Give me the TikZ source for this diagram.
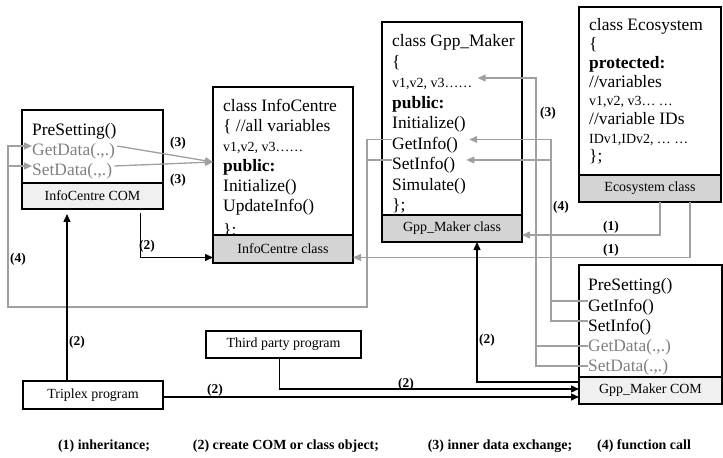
\documentclass[tikz,border=0pt]{standalone}
\usepackage{fontspec}
\setmainfont{Liberation Serif}
\usepackage{tikz}
\usetikzlibrary{positioning, arrows.meta}

\definecolor{linegray}{HTML}{A0A0A0}
\definecolor{textgray}{HTML}{808080}
\definecolor{comfill}{HTML}{F0F0F0}
\definecolor{clsfill}{HTML}{D4D4D4}

\newcommand{\bigtxt}{\fontsize{17.5}{20}\selectfont}
\newcommand{\smalltxt}{\fontsize{14}{16}\selectfont}
\newcommand{\tagtxt}{\fontsize{13.5}{15}\selectfont\bfseries}

\begin{document}
\begin{tikzpicture}[
    x=1bp, y=-1bp,
    font=\bigtxt,
    node distance=0pt,
    body/.style={draw, line width=1.7bp, anchor=north west, inner sep=0pt, outer sep=0pt},
    comband/.style={draw, line width=1.7bp, fill=comfill, inner sep=0pt, outer sep=0pt, font=\smalltxt},
    clsband/.style={draw, line width=1.7bp, fill=clsfill, inner sep=0pt, outer sep=0pt, font=\smalltxt},
    % rows are anchored a little above the middle of the letters
    txtrow/.style={anchor=west, inner sep=0pt, text height=21bp, text depth=1bp},
    grayrow/.style={txtrow, text=textgray},
    tag/.style={font=\tagtxt, inner sep=0pt},
    keytag/.style={font=\fontsize{14}{16}\selectfont\bfseries, inner sep=0pt},
    gline/.style={draw=linegray, line width=1.3bp},
    garr/.style={gline, -{Triangle[length=8bp, width=7bp]}},
    barr/.style={line width=1.4bp, -{Triangle[length=8bp, width=7bp]}},
  ]
  \useasboundingbox (0,0) rectangle (723,458);

  % InfoCentre COM
  \node[body, minimum width=141bp, minimum height=73bp] (icomBody) at (22,110) {};
  \node[txtrow] (icomPre) at (32,126) {PreSetting()};
  \node[grayrow] (icomGet) at (32,146) {GetData(.,.)};
  \node[grayrow] (icomSet) at (32,166) {SetData(.,.)};
  \node[comband, minimum width=141bp, minimum height=26bp, below=of icomBody] (icomBand) {InfoCentre COM};

  % InfoCentre class
  \node[body, minimum width=140bp, minimum height=148bp] (icBody) at (213,87) {};
  \node[txtrow] (icHead) at (223,102) {class InfoCentre};
  \node[txtrow] (icOpen) at (223,122) {\{ //all variables};
  \node[txtrow, font=\smalltxt] (icVars) at (223,142) {v1,v2, v3……};
  \node[txtrow] (icPub) at (223,162) {\textbf{public:}};
  \node[txtrow] (icInit) at (223,182) {Initialize()};
  \node[txtrow] (icUpd) at (223,202) {UpdateInfo()};
  \node[txtrow] (icEnd) at (223,226) {\};};
  \node[clsband, minimum width=140bp, minimum height=28bp, below=of icBody] (icBand) {InfoCentre class};

  % Gpp_Maker class
  \node[body, minimum width=140bp, minimum height=193bp] (gpBody) at (382,22) {};
  \node[txtrow] (gpHead) at (392,37) {class Gpp\_Maker};
  \node[txtrow] (gpOpen) at (392,57.5) {\{};
  \node[txtrow, font=\smalltxt] (gpVars) at (392,78) {v1,v2, v3……};
  \node[txtrow] (gpPub) at (392,98.5) {\textbf{public:}};
  \node[txtrow] (gpInit) at (392,119) {Initialize()};
  \node[txtrow] (gpGet) at (392,139.5) {GetInfo()};
  \node[txtrow] (gpSet) at (392,160) {SetInfo()};
  \node[txtrow] (gpSim) at (392,180.5) {Simulate()};
  \node[txtrow] (gpEnd) at (392,201) {\};};
  \node[clsband, minimum width=140bp, minimum height=27bp, below=of gpBody] (gpBand) {Gpp\_Maker class};

  % Ecosystem class
  \node[body, minimum width=142bp, minimum height=168bp] (ecoBody) at (579,7) {};
  \node[txtrow] (ecoHead) at (589,21) {class Ecosystem};
  \node[txtrow] (ecoOpen) at (589,39.7) {\{};
  \node[txtrow] (ecoProt) at (589,58.4) {\textbf{protected:}};
  \node[txtrow] (ecoCom1) at (589,77.1) {//variables};
  \node[txtrow, font=\smalltxt] (ecoVars) at (589,95.8) {v1,v2, v3… …};
  \node[txtrow] (ecoCom2) at (589,114.5) {//variable IDs};
  \node[txtrow, font=\smalltxt] (ecoIds) at (589,133.2) {IDv1,IDv2, … …};
  \node[txtrow] (ecoEnd) at (589,151.9) {\};};
  \node[clsband, minimum width=142bp, minimum height=27bp, below=of ecoBody] (ecoBand) {Ecosystem class};

  % Gpp_Maker COM
  \node[body, minimum width=143bp, minimum height=112bp] (gcomBody) at (579,265) {};
  \node[txtrow] (gcomPre) at (588,281) {PreSetting()};
  \node[txtrow] (gcomGetI) at (588,301) {GetInfo()};
  \node[txtrow] (gcomSetI) at (588,321) {SetInfo()};
  \node[grayrow] (gcomGetD) at (588,341) {GetData(.,.)};
  \node[grayrow] (gcomSetD) at (588,361) {SetData(.,.)};
  \node[comband, minimum width=143bp, minimum height=27bp, below=of gcomBody] (gcomBand) {Gpp\_Maker COM};

  % programs
  \node[body, minimum width=155bp, minimum height=27bp, font=\smalltxt] (third) at (206,331) {Third party program};
  \node[body, minimum width=140bp, minimum height=28bp, font=\smalltxt] (triplex) at (23,381) {Triplex program};

  % (3) inner data exchange
  \draw[garr] ([xshift=2bp]icomGet.east) -- (icBody.west |- icPub);
  \draw[garr] ([xshift=2bp]icomSet.east) -- (icBody.west |- icPub);
  \coordinate (dataBus) at (536,78);
  \draw[garr] ([yshift=-5bp]gcomSetD.west) -| (dataBus) -- ([xshift=5bp]gpVars.east);
  \draw[gline] ([yshift=-5bp]gcomGetD.west) -| (dataBus);

  % (4) function calls
  \coordinate (loopSE) at (367,307);
  \coordinate (loopSW) at (8,307);
  \draw[garr] (gpGet.west) -| (loopSE) -- (loopSW) |- (icomGet.west);
  \draw[gline] (gpSet.west) -| (loopSE);
  \draw[garr] (loopSW) |- (icomSet.west);
  \coordinate (callBus) at (551,139.5);
  \draw[gline] (gcomSetI.west) -| (callBus);
  \draw[gline] (gcomGetI.west) -| (callBus);
  \draw[garr] (callBus) -- ([xshift=11bp]gpGet.east);
  \draw[garr] (callBus |- gpSet) -- ([xshift=11bp]gpSet.east);

  % (1) inheritance
  \draw[garr] ([xshift=10bp]ecoBand.south) |- ([yshift=-6.5bp]gpBand.east);
  \draw[garr] ([xshift=40bp]ecoBand.south) |- ([yshift=-8.5bp]icBand.east);

  % (2) object creation
  \coordinate (tripUp) at ([xshift=-26bp]triplex.north);
  \draw[barr, shorten >=5bp] (tripUp) -- (tripUp |- icomBand.south);
  \coordinate (icomDown) at ([xshift=48bp]icomBand.south);
  \draw[barr, shorten <=4bp] (icomDown) |- ([yshift=-8.5bp]icBand.west);
  \draw[barr] ([yshift=-2bp]triplex.east) -- ([yshift=-2bp]triplex.east -| gcomBand.west);
  \coordinate (thirdDown) at ([xshift=-4bp]third.south);
  \draw[barr] (thirdDown) |- ([yshift=1.5bp]gcomBand.west);
  \draw[barr] ([yshift=8.5bp]gcomBand.west) -| ([xshift=25bp]gpBand.south);

  % connector tags
  \node[tag] (tagA) at (178,143) {(3)};
  \node[tag] (tagB) at (178,180) {(3)};
  \node[tag] (tagC) at (548,113) {(3)};
  \node[tag] (tagD) at (18,259) {(4)};
  \node[tag] (tagE) at (561,207) {(4)};
  \node[tag] (tagF) at (611,227) {(1)};
  \node[tag] (tagG) at (611,250) {(1)};
  \node[tag] (tagH) at (147,246) {(2)};
  \node[tag] (tagI) at (77,342) {(2)};
  \node[tag] (tagJ) at (215,390) {(2)};
  \node[tag] (tagK) at (406,384) {(2)};
  \node[tag] (tagL) at (487,340) {(2)};

  % key
  \node[keytag] (key1) at (104,446) {(1) inheritance;};
  \node[keytag] (key2) at (286,446) {(2) create COM or class object;};
  \node[keytag] (key3) at (500,446) {(3) inner data exchange;};
  \node[keytag] (key4) at (644,446) {(4) function call};
\end{tikzpicture}
\end{document}
